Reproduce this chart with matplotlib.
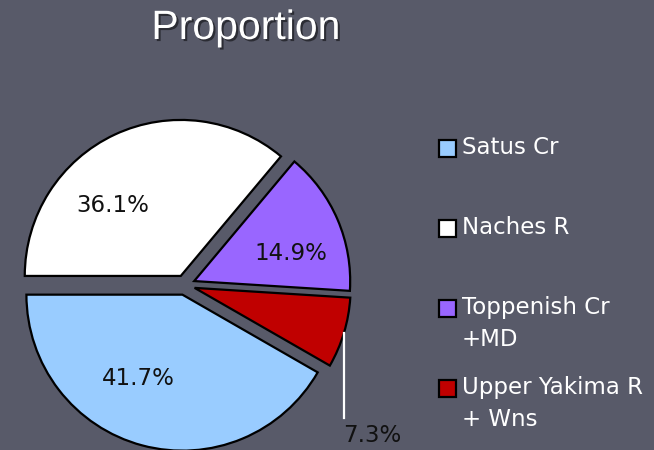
import matplotlib
matplotlib.use("Agg")
import matplotlib.pyplot as plt
import matplotlib.patheffects as pe
from matplotlib.patches import Rectangle
import numpy as np

# data
regions = ['Satus Cr', 'Naches R', 'Toppenish Cr\n+MD', 'Upper Yakima R\n+ Wns']
shares = [41.7, 36.1, 14.9, 7.3]
colors = ['#99ccff', '#ffffff', '#9966ff', '#c00000']

W, H = 654, 450
bg = '#585a69'

fig = plt.figure(figsize=(W / 100, H / 100), dpi=100, facecolor=bg)
ax = fig.add_axes([0, 0, 1, 1])
ax.set_facecolor(bg)

cx, cy, r = 185, 165, 156
start = 180 + shares[0] * 3.6

# explode is in data units here (radius is not 1)
wedges, texts, autotexts = ax.pie(
    shares, colors=colors, startangle=start, counterclock=False,
    explode=[10] * len(shares), center=(cx, cy), radius=r,
    autopct='%1.1f%%', pctdistance=0.6,
    wedgeprops=dict(edgecolor='black', linewidth=1.6),
    textprops=dict(fontsize=16.5, color='#111111', family='DejaVu Sans'))

# label placement (in radius units from the pie centre)
offsets = [(-0.30, -0.60), (-0.46, 0.51), (0.68, 0.205), (1.20, -0.965)]
for t, (dx, dy) in zip(autotexts, offsets):
    t.set_position((cx + dx * r, cy + dy * r))
    t.set_ha('center')
    t.set_va('center')

# leader line for the small slice
w = wedges[3]
mid = np.deg2rad((w.theta1 + w.theta2) / 2)
x0 = w.center[0] + w.r * np.cos(mid)
y0 = w.center[1] + w.r * np.sin(mid)
ax.plot([x0, x0], [y0, autotexts[3].get_position()[1] + 18], color='white', lw=1.6)

ax.set_xlim(0, W)
ax.set_ylim(0, H)
ax.set_aspect('equal')
ax.axis('off')

# title
fig.text(246 / W, 1 - 28 / H, 'Proportion', ha='center', va='center',
         fontsize=29.5, color='white', family='Liberation Sans',
         path_effects=[pe.SimplePatchShadow(offset=(1.5, -1.5), shadow_rgbFace='black', alpha=0.5),
                       pe.Normal()])

# legend
for i, (name, c) in enumerate(zip(regions, colors)):
    yc = 148 + 80 * i
    ax.add_patch(Rectangle((439, H - yc - 8.5), 17, 17, facecolor=c,
                           edgecolor='black', linewidth=1.6, clip_on=False))
    ax.text(462, H - yc + 12, name, ha='left', va='top', fontsize=16.5,
            color='white', family='DejaVu Sans', linespacing=1.5)

fig.savefig('out.png', dpi=100, facecolor=bg)
